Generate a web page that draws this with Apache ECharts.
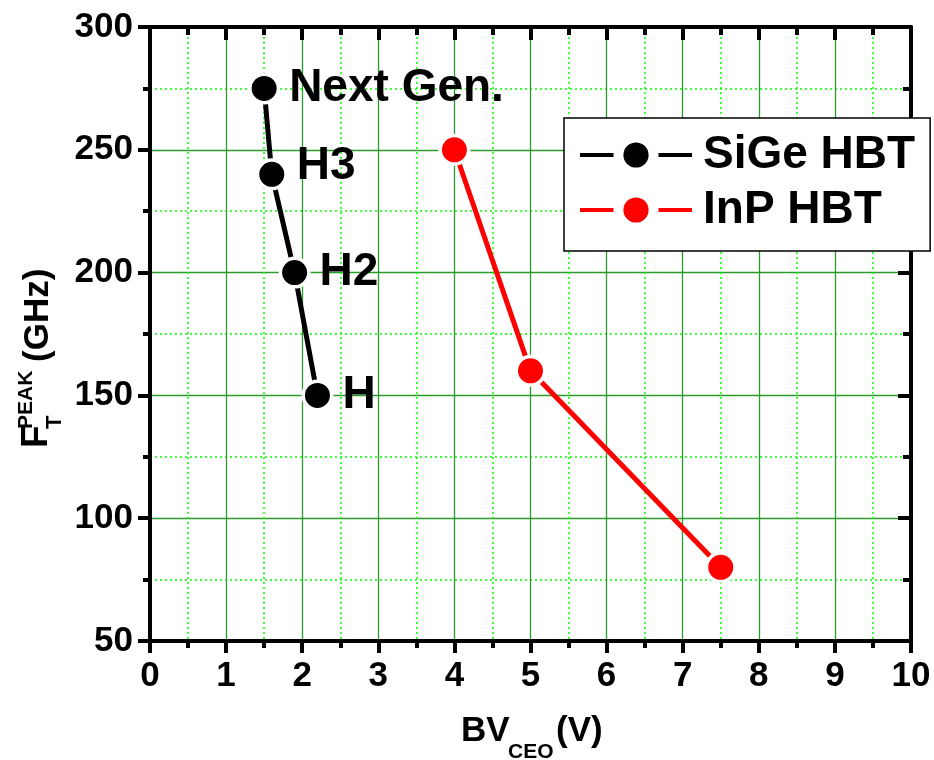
<!DOCTYPE html>
<html>
<head>
<meta charset="utf-8">
<script src="https://cdn.jsdelivr.net/npm/echarts@6/dist/echarts.min.js"></script>
<style>
  html, body { margin: 0; padding: 0; background: #fff; }
  #chart { width: 934px; height: 760px; }
</style>
</head>
<body>
<div id="chart"></div>
<script>
// Peak cutoff frequency vs. collector-emitter breakdown voltage
const seriesNames = ['SiGe HBT', 'InP HBT'];
const sigeBV = [1.5, 1.6, 1.9, 2.2];
const sigeFt = [275, 240, 200, 150];
const sigeNames = ['Next Gen.', 'H3', 'H2', 'H'];
const inpBV = [4.0, 5.0, 7.5];
const inpFt = [250, 160, 80];
const xTicks = [0, 1, 2, 3, 4, 5, 6, 7, 8, 9, 10];
const yTicks = [50, 100, 150, 200, 250, 300];

const FONT = '"Liberation Sans", Arial, Helvetica, sans-serif';
const black = '#000000';
const majorGrid = '#2a9a2a';
const minorGrid = '#00ff00';

const chart = echarts.init(document.getElementById('chart'), null, { renderer: 'canvas' });

function axisBase(pos, ticks, inside, showLabels) {
  return {
    type: 'value',
    position: pos,
    min: ticks[0],
    max: ticks[ticks.length - 1],
    interval: ticks[1] - ticks[0],
    axisLine: { show: true, onZero: false, lineStyle: { color: black, width: 4 } },
    axisTick: { show: true, inside: inside, length: inside ? 13 : 12, lineStyle: { color: black, width: 4 } },
    minorTick: { show: true, splitNumber: 2, length: inside ? 8 : 7, lineStyle: { color: black, width: 4 } },
    axisLabel: {
      show: showLabels,
      color: black,
      fontFamily: FONT,
      fontWeight: 'bold',
      fontSize: 35
    },
    splitLine: { show: false },
    minorSplitLine: { show: false }
  };
}

const xBottom = axisBase('bottom', xTicks, false, true);
xBottom.axisLabel.margin = 18;
xBottom.splitLine = { show: true, lineStyle: { color: majorGrid, width: 1.3 } };
xBottom.minorSplitLine = { show: true, lineStyle: { color: minorGrid, width: 1.5, type: [2, 3] } };
const xTop = axisBase('top', xTicks, true, false);

const yLeft = axisBase('left', yTicks, false, true);
yLeft.axisLabel.margin = 17;
yLeft.splitLine = { show: true, lineStyle: { color: majorGrid, width: 1.3 } };
yLeft.minorSplitLine = { show: true, lineStyle: { color: minorGrid, width: 1.5, type: [2, 3] } };
const yRight = axisBase('right', yTicks, true, false);

const symbolStyle = (color) => ({ color: color, borderColor: '#ffffff', borderWidth: 3.5 });

// the "H3" tag sits slightly above its point
const sigeLabelLift = { 'H3': [0, -8] };

const option = {
  backgroundColor: '#ffffff',
  animation: false,
  grid: { left: 150, right: 23, top: 27, bottom: 119, containLabel: false },
  xAxis: [xBottom, xTop],
  yAxis: [yLeft, yRight],
  legend: {
    left: 564,
    top: 118,
    orient: 'vertical',
    backgroundColor: '#ffffff',
    borderColor: black,
    borderWidth: 1.5,
    borderRadius: 0,
    padding: [12, 15, 16, 14],
    itemGap: 5,
    itemWidth: 112,
    itemHeight: 44,
    itemStyle: { borderColor: '#ffffff', borderWidth: 10 },
    lineStyle: { width: 4 },
    textStyle: {
      color: black,
      fontFamily: FONT,
      fontWeight: 'bold',
      fontSize: 46,
      lineHeight: 50,
      padding: [0, 0, 0, 6]
    },
    data: seriesNames,
    z: 10
  },
  series: [
    {
      name: seriesNames[0],
      type: 'line',
      xAxisIndex: 0,
      yAxisIndex: 0,
      data: sigeBV.map((x, i) => {
        const item = { value: [x, sigeFt[i]], name: sigeNames[i] };
        if (sigeLabelLift[sigeNames[i]]) item.label = { offset: sigeLabelLift[sigeNames[i]] };
        return item;
      }),
      symbol: 'circle',
      symbolSize: 28.5,
      lineStyle: { color: black, width: 5 },
      itemStyle: symbolStyle(black),
      label: {
        show: true,
        position: 'right',
        distance: 9,
        formatter: (p) => p.name,
        color: black,
        fontFamily: FONT,
        fontWeight: 'bold',
        fontSize: 46
      },
      z: 3
    },
    {
      name: seriesNames[1],
      type: 'line',
      xAxisIndex: 0,
      yAxisIndex: 0,
      data: inpBV.map((x, i) => [x, inpFt[i]]),
      symbol: 'circle',
      symbolSize: 28.5,
      lineStyle: { color: '#ff0000', width: 5 },
      itemStyle: symbolStyle('#ff0000'),
      z: 3
    }
  ],
  graphic: [
    // x-axis title: BV_CEO (V)
    { type: 'text', x: 461, y: 731, style: { text: 'BV', font: 'bold 35px ' + FONT, fill: black, align: 'left', verticalAlign: 'middle' } },
    { type: 'text', x: 508, y: 752, style: { text: 'CEO', font: 'bold 21px ' + FONT, fill: black, align: 'left', verticalAlign: 'middle' } },
    { type: 'text', x: 556, y: 731, style: { text: '(V)', font: 'bold 35px ' + FONT, fill: black, align: 'left', verticalAlign: 'middle' } },
    // y-axis title: F_T^PEAK (GHz), rotated to read upwards
    {
      type: 'group',
      x: 50, y: 448,
      rotation: Math.PI / 2,
      children: [
        { type: 'text', x: 0, y: -13, style: { text: 'F', font: 'bold 37px ' + FONT, fill: black, align: 'left', verticalAlign: 'middle' } },
        { type: 'text', x: 19, y: -24, style: { text: 'PEAK', font: 'bold 21px ' + FONT, fill: black, align: 'left', verticalAlign: 'middle' } },
        { type: 'text', x: 19, y: 5, style: { text: 'T', font: 'bold 22px ' + FONT, fill: black, align: 'left', verticalAlign: 'middle' } },
        { type: 'text', x: 86, y: -12, style: { text: '(GHz)', font: 'bold 35px ' + FONT, fill: black, align: 'left', verticalAlign: 'middle' } }
      ]
    }
  ]
};

chart.setOption(option);
</script>
</body>
</html>
